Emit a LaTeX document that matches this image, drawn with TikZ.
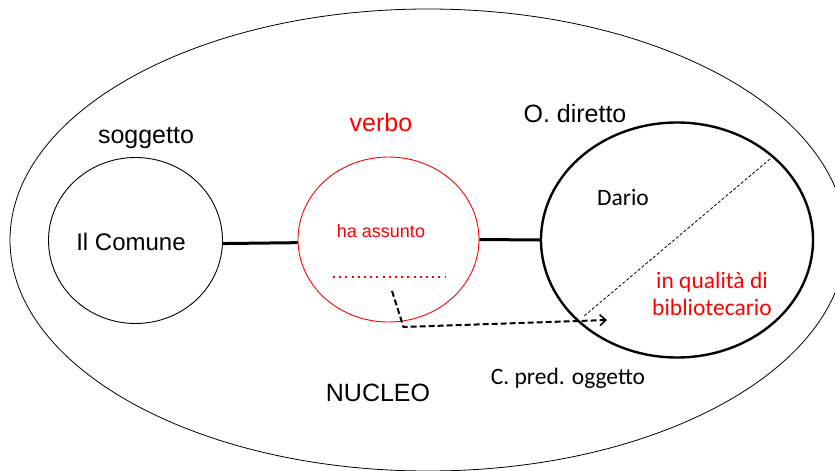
\documentclass[tikz,border=0pt]{standalone}
\usepackage{fontspec}
\setmainfont{Liberation Sans}
\newfontfamily\calfont{Carlito}
\usetikzlibrary{shapes.geometric,arrows.meta}
\definecolor{myred}{RGB}{255,0,0}
\tikzset{
  blob/.style={ellipse, draw, inner sep=0pt, line width=0.9pt},
  arialtxt/.style={font=\fontsize{25}{30}\selectfont, inner sep=0pt},
  caltxt/.style={font=\calfont\fontsize{23.5}{27}\selectfont, inner sep=0pt, align=center},
  conn/.style={line width=3pt},
}
\begin{document}
\begin{tikzpicture}[x=1pt,y=-1pt]
\useasboundingbox (0,0) rectangle (835,471);
\fill[white] (0,0) rectangle (835,471);
% outer ellipse
\node[blob, line width=0.8pt, minimum width=836pt, minimum height=462pt] (nucleo) at (428,240) {};
% circles
\node[blob, minimum width=174pt, minimum height=166pt] (s) at (135.5,240.5) {};
\node[blob, draw=myred, minimum width=181pt, minimum height=165pt] (v) at (388.5,239.5) {};
\node[blob, line width=2.4pt, minimum width=272pt, minimum height=235pt] (o) at (677,240) {};
% connectors
\draw[conn] (s.-2.3) -- (v.182.8);
\draw[conn] (v.east) -- (o.west);
% labels
\node[arialtxt] (lsog) at (146,138) {soggetto};
\node[arialtxt, text=myred] (lverb) at (381,123) {verbo};
\node[arialtxt] (lod) at (575,114) {O. diretto};
\node[arialtxt, font=\fontsize{24}{28}\selectfont] (lcom) at (131,242) {Il Comune};
\node[inner sep=0pt, text=myred, font=\fontsize{18}{22}\selectfont] (lha) at (381,231) {ha assunto};
\node[caltxt] (ldar) at (623,197) {Dario};
\node[caltxt, text=myred] (lqual) at (712,294) {in qualità di\\bibliotecario};
\node[caltxt] (lcpred) at (568,378) {C. pred. oggetto};
\node[arialtxt] (lnuc) at (378,393) {NUCLEO};
% dotted red line
\coordinate (d1) at (333,277);
\coordinate (d2) at (446,277);
\draw[myred, line width=2.4pt, dash pattern=on 2pt off 4.2pt] (d1) -- (d2);
% dashed arrow
\coordinate (a1) at (392,291);
\coordinate (a2) at (403.5,327);
\coordinate (a3) at (607,320);
\draw[line width=2pt, dash pattern=on 6pt off 3pt, -{Straight Barb[length=6pt,width=11pt,line width=1.6pt]}] (a1) -- (a2) -- (a3);
% thin diagonal
\coordinate (g1) at (770,159);
\coordinate (g2) at (583,317);
\draw[line width=0.8pt, dash pattern=on 3pt off 2pt] (g1) -- (g2);
\end{tikzpicture}
\end{document}
